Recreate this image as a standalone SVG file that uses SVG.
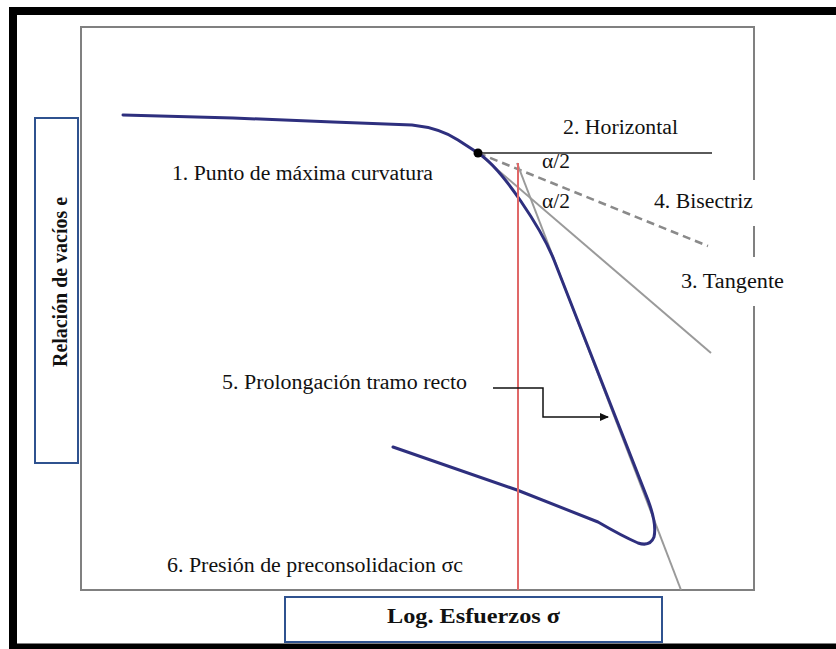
<svg xmlns="http://www.w3.org/2000/svg" width="836" height="649" viewBox="0 0 836 649">
  <style>
    .lbl { font-family: "Liberation Serif", "Times New Roman", serif; font-size: 20px; fill: #111; }
    .axis { font-family: "Liberation Serif", "Times New Roman", serif; font-size: 20px; font-weight: bold; fill: #111; }
    .box { fill: #fff; stroke: #2f528f; stroke-width: 2; }
    .frame { fill: none; stroke: #808080; stroke-width: 2; }
    .guide { fill: none; stroke: #9a9a9a; stroke-width: 2; }
    .mask { fill: #fff; stroke: none; }
  </style>
  <defs>
    <marker id="arrowhead" markerWidth="9" markerHeight="8" refX="8" refY="4" orient="auto" markerUnits="userSpaceOnUse">
      <path d="M0,0 L9,4 L0,8 Z" fill="#111"/>
    </marker>
  </defs>

  <rect width="836" height="649" fill="#fff"/>

  <!-- outer black border (open on the right) -->
  <path d="M836,11 H13 V649 M13,647.5 H836" fill="none" stroke="#000" stroke-width="8"/>

  <!-- plot frame -->
  <rect id="plot-frame" class="frame" x="81" y="27" width="673" height="563"/>

  <!-- construction lines -->
  <g id="construction">
    <line id="horizontal" x1="478" y1="153" x2="712" y2="153" stroke="#5a5a5a" stroke-width="2"/>
    <line id="bisectriz" x1="478" y1="153" x2="708" y2="246" stroke="#8a8a8a" stroke-width="2.5" stroke-dasharray="8 5"/>
    <line id="tangente" class="guide" x1="478" y1="153" x2="711" y2="353"/>
    <line id="prolongacion" class="guide" x1="517" y1="163" x2="681" y2="590"/>
  </g>

  <!-- compression curve -->
  <g id="curve">
    <path d="M123,115 L233,118 L333,122 L412,125 Q440,128 458,140 L478,153 C503,169 542,230 554,260 L648,500 Q657,524 654,537 Q650,547 638,543 Q622,536 598,522 L517,490 L393,447"
          fill="none" stroke="#2e2f7e" stroke-width="3" stroke-linejoin="round" stroke-linecap="round"/>
    <circle id="max-curvature-point" cx="478" cy="153" r="4.5" fill="#000"/>
  </g>

  <!-- preconsolidation pressure line -->
  <line id="sigma-c" x1="518" y1="163" x2="518" y2="590" stroke="#e06868" stroke-width="2"/>

  <!-- labels -->
  <g id="label-1">
    <text class="lbl" x="172" y="180" textLength="261" lengthAdjust="spacingAndGlyphs">1. Punto de máxima curvatura</text>
  </g>
  <g id="label-2">
    <text class="lbl" x="563" y="134" textLength="115" lengthAdjust="spacingAndGlyphs">2. Horizontal</text>
  </g>
  <g id="label-alpha">
    <text class="lbl" x="542" y="168" textLength="28" lengthAdjust="spacingAndGlyphs">α/2</text>
    <text class="lbl" x="542" y="208" textLength="28" lengthAdjust="spacingAndGlyphs">α/2</text>
  </g>
  <g id="label-4">
    <rect class="mask" x="748" y="180" width="14" height="46"/>
    <text class="lbl" x="654" y="208" textLength="99" lengthAdjust="spacingAndGlyphs">4. Bisectriz</text>
  </g>
  <g id="label-3">
    <rect class="mask" x="748" y="257" width="14" height="49"/>
    <text class="lbl" x="681" y="288" textLength="103" lengthAdjust="spacingAndGlyphs">3. Tangente</text>
  </g>
  <g id="label-5">
    <text class="lbl" x="222" y="389" textLength="245" lengthAdjust="spacingAndGlyphs">5. Prolongación tramo recto</text>
  </g>
  <g id="label-6">
    <text class="lbl" x="167" y="572" textLength="296" lengthAdjust="spacingAndGlyphs">6. Presión de preconsolidacion σc</text>
  </g>

  <!-- leader arrow for label 5 -->
  <g id="connectors">
    <polyline points="493,388 543,388 543,417 608,417" fill="none" stroke="#111" stroke-width="1.5" marker-end="url(#arrowhead)"/>
  </g>

  <!-- axis titles -->
  <g id="y-axis-title">
    <rect class="box" x="35" y="118" width="43" height="345"/>
    <text class="axis" transform="translate(67,282) rotate(-90)" text-anchor="middle" textLength="170" lengthAdjust="spacingAndGlyphs">Relación de vacíos e</text>
  </g>
  <g id="x-axis-title">
    <rect class="box" x="285" y="597" width="377" height="45"/>
    <text class="axis" x="387" y="623" textLength="173" lengthAdjust="spacingAndGlyphs">Log. Esfuerzos σ</text>
  </g>
</svg>
